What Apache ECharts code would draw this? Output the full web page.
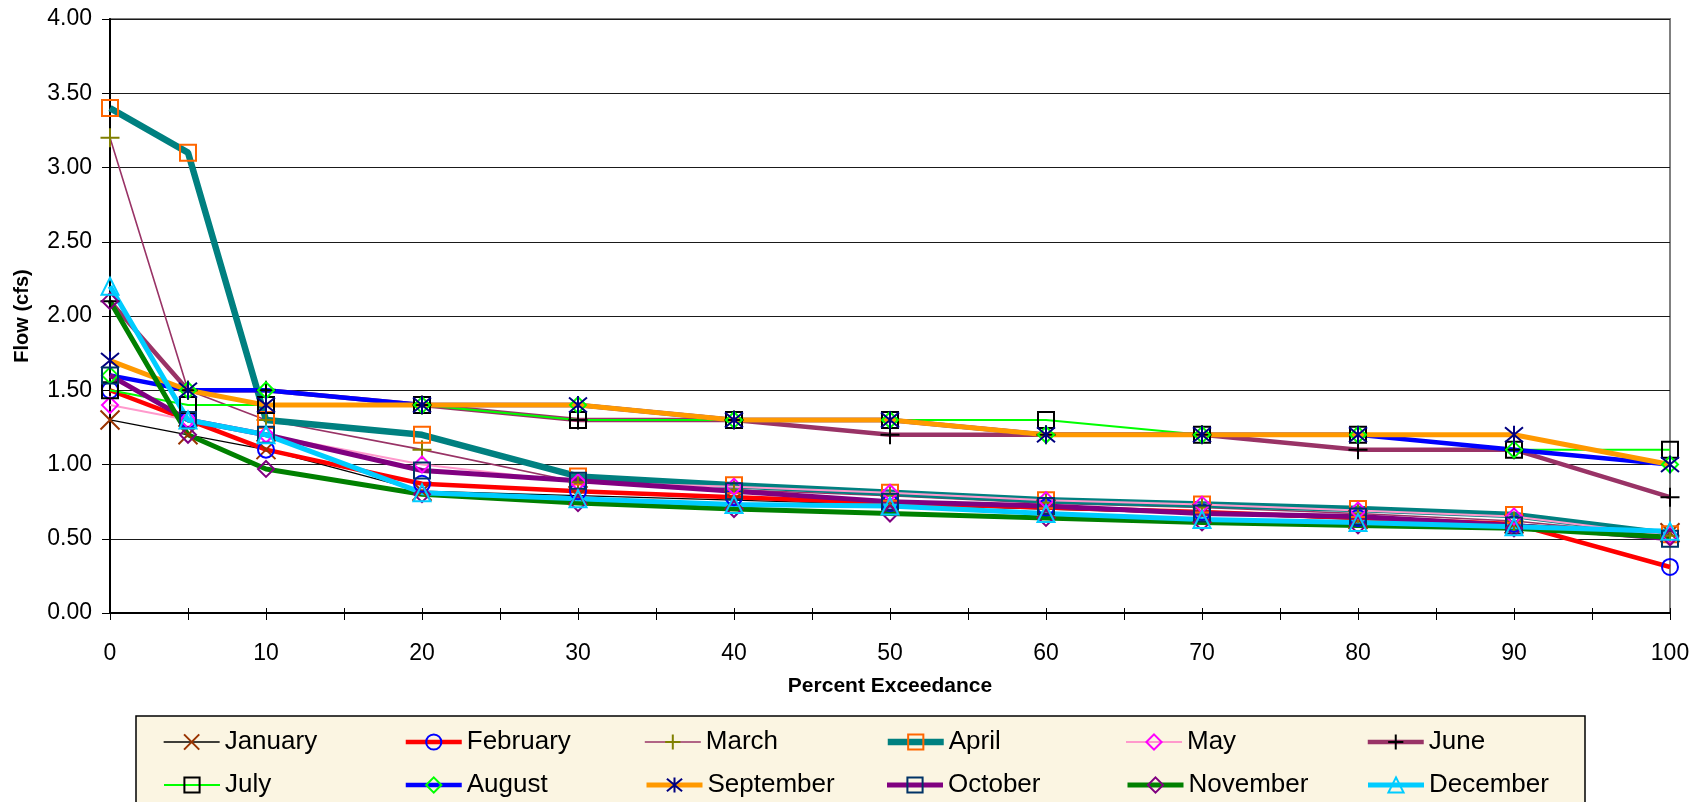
<!DOCTYPE html>
<html>
<head>
<meta charset="utf-8">
<script src="https://cdn.jsdelivr.net/npm/echarts@6/dist/echarts.min.js"></script>
<style>
  html, body { margin: 0; padding: 0; background: #ffffff; }
  #chart { width: 1703px; height: 802px; }
</style>
</head>
<body>
<div id="chart"></div>
<script>
// Percent-exceedance positions (x) and monthly flow values (cfs)
const exceedance = [0, 5, 10, 20, 30, 40, 50, 60, 70, 80, 90, 100];

const january   = [1.30, 1.20, 1.10, 0.82, 0.79, 0.76, 0.73, 0.70, 0.67, 0.63, 0.60, 0.54];
const february  = [1.50, 1.30, 1.10, 0.87, 0.82, 0.78, 0.74, 0.71, 0.68, 0.64, 0.60, 0.31];
const march     = [3.20, 1.50, 1.30, 1.10, 0.88, 0.83, 0.79, 0.74, 0.71, 0.67, 0.62, 0.52];
const april     = [3.40, 3.10, 1.30, 1.20, 0.92, 0.86, 0.81, 0.76, 0.73, 0.70, 0.66, 0.53];
const may       = [1.40, 1.30, 1.20, 1.00, 0.88, 0.85, 0.81, 0.76, 0.73, 0.69, 0.65, 0.52];
const june      = [2.10, 1.50, 1.50, 1.40, 1.30, 1.30, 1.20, 1.20, 1.20, 1.10, 1.10, 0.78];
const july      = [1.50, 1.40, 1.40, 1.40, 1.30, 1.30, 1.30, 1.30, 1.20, 1.20, 1.10, 1.10];
const august    = [1.60, 1.50, 1.50, 1.40, 1.40, 1.30, 1.30, 1.20, 1.20, 1.20, 1.10, 1.00];
const september = [1.70, 1.50, 1.40, 1.40, 1.40, 1.30, 1.30, 1.20, 1.20, 1.20, 1.20, 1.00];
const october   = [1.60, 1.30, 1.20, 0.96, 0.89, 0.82, 0.75, 0.72, 0.67, 0.65, 0.59, 0.50];
const november  = [2.10, 1.20, 0.97, 0.80, 0.74, 0.70, 0.67, 0.64, 0.61, 0.59, 0.57, 0.51];
const december  = [2.20, 1.30, 1.20, 0.81, 0.77, 0.73, 0.72, 0.67, 0.63, 0.61, 0.58, 0.55];

const monthNames = ['January', 'February', 'March', 'April', 'May', 'June',
                    'July', 'August', 'September', 'October', 'November', 'December'];
const monthValues = [january, february, march, april, may, june,
                     july, august, september, october, november, december];

const yTicks = { min: 0, max: 4, step: 0.5 };

// Hollow marker outlines (stroked paths)
const MARK = {
  cross:    'path://M0,0L10,10M10,0L0,10',
  circle:   'path://M10,5A5,5,0,1,1,0,5A5,5,0,1,1,10,5Z',
  plus:     'path://M5,0L5,10M0,5L10,5',
  square:   'path://M0,0L10,0L10,10L0,10Z',
  diamond:  'path://M5,0L10,5L5,10L0,5Z',
  star:     'path://M0,0L10,10M10,0L0,10M5,-1L5,11',
  triangle: 'path://M5,0L10,9L0,9Z'
};

// Per-month drawing style: line colour/width, marker shape/colour/size
const styles = [
  { line: '#000000', w: 1.3, mark: MARK.cross,    mc: '#993300', ms: 19 },
  { line: '#FF0000', w: 4.5, mark: MARK.circle,   mc: '#0000FF', ms: 16 },
  { line: '#993366', w: 1.6, mark: MARK.plus,     mc: '#808000', ms: 19 },
  { line: '#008080', w: 6.5, mark: MARK.square,   mc: '#FF6600', ms: 16 },
  { line: '#FF99CC', w: 2,   mark: MARK.diamond,  mc: '#FF00FF', ms: 16 },
  { line: '#993366', w: 4.5, mark: MARK.plus,     mc: '#000000', ms: 19 },
  { line: '#00FF00', w: 2,   mark: MARK.square,   mc: '#000000', ms: 16 },
  { line: '#0000FF', w: 4.5, mark: MARK.diamond,  mc: '#00FF00', ms: 16 },
  { line: '#FF9900', w: 5,   mark: MARK.star,     mc: '#000080', ms: 18 },
  { line: '#800080', w: 5,   mark: MARK.square,   mc: '#003366', ms: 16 },
  { line: '#008000', w: 5,   mark: MARK.diamond,  mc: '#800080', ms: 16 },
  { line: '#00CCFF', w: 5,   mark: MARK.triangle, mc: '#00CCFF', ms: 17 }
];

const series = monthNames.map((name, i) => ({
  name: name,
  type: 'line',
  xAxisIndex: 0,
  yAxisIndex: 0,
  data: exceedance.map((x, k) => [x, monthValues[i][k]]),
  symbol: styles[i].mark,
  symbolSize: styles[i].ms,
  showAllSymbol: true,
  lineStyle: { color: styles[i].line, width: styles[i].w },
  itemStyle: { color: 'rgba(0,0,0,0)', borderColor: styles[i].mc, borderWidth: 2 },
  emphasis: { disabled: true },
  animation: false
}));

// Legend: six columns, two rows inside a framed cream box
const legendCols = [163, 403.5, 644, 884.5, 1125, 1365.5];
const legendRows = [729, 772];
const legends = monthNames.map((name, i) => ({
  data: [name],
  left: legendCols[i % 6],
  top: legendRows[Math.floor(i / 6)],
  orient: 'horizontal',
  padding: 0,
  itemWidth: 56,
  itemHeight: 19,
  selectedMode: false,
  z: 10,
  lineStyle: { width: 'inherit' },
  itemStyle: { borderWidth: 'inherit' },
  textStyle: { fontFamily: 'Liberation Sans', fontSize: 26, color: '#000000' }
}));

const labelFont = { fontFamily: 'Liberation Sans', fontSize: 23, color: '#000000' };

const chart = echarts.init(document.getElementById('chart'), null, { renderer: 'canvas' });
chart.setOption({
  backgroundColor: '#ffffff',
  animation: false,
  grid: {
    left: 110, right: 33, top: 19, bottom: 189,
    show: true, borderColor: '#808080', borderWidth: 2, backgroundColor: '#ffffff'
  },
  graphic: [{
    type: 'rect',
    z: 0,
    shape: { x: 136, y: 716, width: 1449, height: 100 },
    style: { fill: '#FBF5E2', stroke: '#000000', lineWidth: 1.5 }
  }],
  legend: legends,
  xAxis: [{
    type: 'value',
    min: 0, max: 100, interval: 5,
    name: 'Percent Exceedance',
    nameLocation: 'middle',
    nameGap: 63,
    nameTextStyle: { fontFamily: 'Liberation Sans', fontSize: 21, fontWeight: 'bold', color: '#000000' },
    axisLine: { show: true, onZero: false, lineStyle: { color: '#000000', width: 2 } },
    axisTick: { show: true, inside: false, length: 7, lineStyle: { color: '#000000', width: 1 } },
    axisLabel: Object.assign({ margin: 29, formatter: v => (v % 10 === 0 ? String(v) : '') }, labelFont),
    splitLine: { show: false }
  }, {
    // second pass for the tick halves that sit above the axis line
    type: 'value',
    min: 0, max: 100, interval: 5,
    position: 'bottom',
    axisLine: { show: false },
    axisTick: { show: true, inside: true, length: 5, lineStyle: { color: '#000000', width: 1 } },
    axisLabel: { show: false },
    splitLine: { show: false }
  }],
  yAxis: {
    type: 'value',
    min: yTicks.min, max: yTicks.max, interval: yTicks.step,
    name: 'Flow (cfs)',
    nameLocation: 'middle',
    nameGap: 78,
    nameTextStyle: { fontFamily: 'Liberation Sans', fontSize: 20, fontWeight: 'bold', color: '#000000' },
    axisLine: { show: true, lineStyle: { color: '#000000', width: 2 } },
    axisTick: { show: true, inside: false, length: 8, lineStyle: { color: '#000000', width: 1 } },
    axisLabel: Object.assign({ margin: 18, formatter: v => v.toFixed(2) }, labelFont),
    splitLine: { show: true, lineStyle: { color: '#1a1a1a', width: 1 } }
  },
  series: series
});
</script>
</body>
</html>
